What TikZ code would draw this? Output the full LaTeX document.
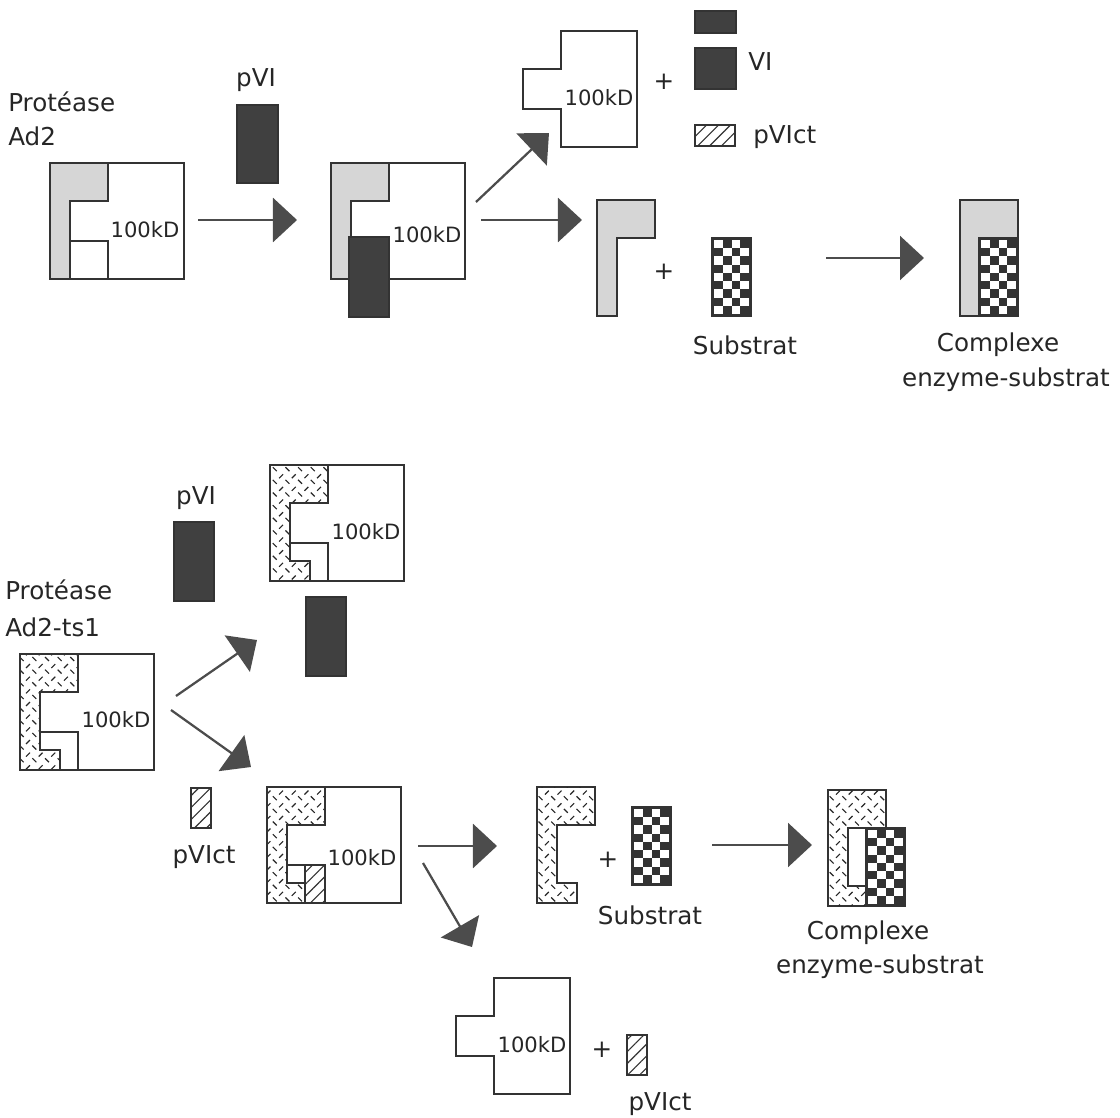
\documentclass[tikz,border=0pt]{standalone}
\usepackage{fontspec}
\setmainfont{DejaVu Sans}
\usetikzlibrary{arrows.meta,patterns,patterns.meta}
\pgfdeclarepatternformonly{tsdash}{\pgfqpoint{-1pt}{-1pt}}{\pgfqpoint{10pt}{10pt}}{\pgfqpoint{9pt}{9pt}}{%
  \pgfsetlinewidth{0.8pt}
  \pgfpathmoveto{\pgfqpoint{0.5pt}{5pt}}\pgfpathlineto{\pgfqpoint{3.3pt}{7.8pt}}
  \pgfpathmoveto{\pgfqpoint{5pt}{3.8pt}}\pgfpathlineto{\pgfqpoint{7.8pt}{1pt}}
  \pgfusepath{stroke}}
\begin{document}
\begin{tikzpicture}[x=0.025cm, y=-0.025cm]
  \tikzset{
    shapeline/.style={draw=black!80, line width=1.3pt},
    dotfill/.style={shapeline, fill=black!16},
    dashfill/.style={shapeline, fill=white, postaction={pattern=tsdash, pattern color=black!85}},
    kdbox/.style={shapeline, fill=white},
    pvibox/.style={draw=black!80, line width=1pt, fill=black!75},
    ctbox/.style={shapeline, line width=1pt, fill=white, postaction={pattern={Lines[angle=45,distance=6pt,line width=0.8pt]}, pattern color=black!80}},
    arr/.style={draw=black!70, line width=1.6pt, -{Triangle[length=0.6cm,width=1.1cm]}},
    lbl/.style={text=black!85, inner sep=0pt, font=\fontsize{17.5}{21}\selectfont},
    kd/.style={lbl, font=\fontsize{15}{18}\selectfont}
  }
  \useasboundingbox (0,0) rectangle (1120,1118);
  \def\lpath{-- ++(58,0) -- ++(0,38) -- ++(-38,0) -- ++(0,78) -- ++(-20,0) -- cycle}
  \def\tspath{-- ++(58,0) -- ++(0,38) -- ++(-38,0) -- ++(0,58) -- ++(20,0) -- ++(0,20) -- ++(-40,0) -- cycle}
  \def\kdpath{-- ++(76,0) -- ++(0,116) -- ++(-76,0) -- ++(0,-38) -- ++(-38,0) -- ++(0,-40) -- ++(38,0) -- cycle}
  \def\checker#1#2{\begin{scope}[shift={(#1,#2)}]
      \fill[black!80] (0,0) rectangle (39,78);
      \foreach \row in {0,...,8}
        \foreach \col in {0,...,3}{
          \pgfmathtruncatemacro\odd{mod(\row+\col,2)}
          \ifnum\odd=0 \fill[white] (2+\col*8.75,2+\row*8.22) rectangle ++(8.75,8.22); \fi}
      \draw[shapeline] (0,0) rectangle (39,78);
    \end{scope}}

  % Ad2 protease
  \node[lbl, anchor=west] (prot1) at (8,102) {Protéase};
  \node[lbl, anchor=west] (ad2) at (8,136) {Ad2};
  \draw[dotfill] (50,163) \lpath;
  \draw[kdbox] (108,163) \kdpath;
  \draw[shapeline] (50,163) rectangle ++(134,116);
  \node[kd] (kd1) at (145,230) {100kD};

  \node[lbl] (pvi1) at (256,80) {pVI};
  \draw[pvibox] (237,105) rectangle (278,183);
  \coordinate (a1s) at (198,220);
  \coordinate (a1e) at (297,220);
  \draw[arr] (a1s) -- (a1e);

  \draw[dotfill] (331,163) \lpath;
  \draw[kdbox] (389,163) \kdpath;
  \draw[shapeline] (331,163) rectangle ++(134,116);
  \draw[pvibox] (349,237) rectangle (389,317);
  \node[kd] (kd2) at (427,235) {100kD};

  \coordinate (a2s) at (476,202);
  \coordinate (a2e) at (549,133);
  \coordinate (a3s) at (481,220);
  \coordinate (a3e) at (582,220);
  \draw[arr] (a2s) -- (a2e);
  \draw[arr] (a3s) -- (a3e);

  % cleavage products
  \draw[kdbox] (561,31) \kdpath;
  \node[kd] (kd3) at (599,98) {100kD};
  \node[lbl] (plus1) at (664,82) {+};
  \draw[pvibox] (695,11) rectangle (736,33);
  \draw[pvibox] (695,48) rectangle (736,89);
  \node[lbl, anchor=west] (vi) at (748,62) {VI};
  \draw[ctbox] (695,125) rectangle (735,146);
  \node[lbl, anchor=west] (pvict1) at (753,137) {pVIct};

  \draw[dotfill] (597,200) \lpath;
  \node[lbl] (plus2) at (664,272) {+};
  \checker{712}{238}
  \node[lbl] (sub1) at (745,345) {Substrat};

  \coordinate (a4s) at (826,258);
  \coordinate (a4e) at (924,258);
  \draw[arr] (a4s) -- (a4e);

  \draw[dotfill] (960,200) \lpath;
  \checker{979}{238}
  \node[lbl] (cpx1) at (998,345) {Complexe};
  \node[lbl] (es1) at (1006,380) {enzyme-substrat};

  % Ad2-ts1 protease
  \node[lbl] (pvi2) at (196,498) {pVI};
  \draw[pvibox] (174,522) rectangle (214,601);
  \node[lbl, anchor=west] (prot2) at (5,590) {Protéase};
  \node[lbl, anchor=west] (ts1) at (5,627) {Ad2-ts1};
  \draw[dashfill] (20,654) \tspath;
  \draw[kdbox] (78,654) \kdpath;
  \draw[shapeline] (20,654) rectangle ++(134,116);
  \node[kd] (kd4) at (116,720) {100kD};

  \coordinate (a5s) at (176,696);
  \coordinate (a5e) at (257,640);
  \coordinate (a6s) at (171,710);
  \coordinate (a6e) at (251,767);
  \draw[arr] (a5s) -- (a5e);
  \draw[arr] (a6s) -- (a6e);

  \draw[dashfill] (270,465) \tspath;
  \draw[kdbox] (328,465) \kdpath;
  \draw[shapeline] (270,465) rectangle ++(134,116);
  \node[kd] (kd5) at (366,532) {100kD};
  \draw[pvibox] (306,597) rectangle (346,676);

  \draw[ctbox] (191,788) rectangle (211,828);
  \node[lbl] (pvict2) at (204,857) {pVIct};

  \draw[dashfill] (267,787) \tspath;
  \draw[kdbox] (325,787) \kdpath;
  \draw[shapeline] (267,787) rectangle ++(134,116);
  \draw[ctbox] (305,865) rectangle (325,903);
  \node[kd] (kd6) at (362,858) {100kD};

  \coordinate (a7s) at (418,846);
  \coordinate (a7e) at (497,846);
  \coordinate (a8s) at (423,863);
  \coordinate (a8e) at (472,947);
  \draw[arr] (a7s) -- (a7e);
  \draw[arr] (a8s) -- (a8e);

  \draw[dashfill] (537,787) \tspath;
  \node[lbl] (plus3) at (608,860) {+};
  \checker{632}{807}
  \node[lbl] (sub2) at (650,915) {Substrat};

  \coordinate (a9s) at (712,845);
  \coordinate (a9e) at (812,845);
  \draw[arr] (a9s) -- (a9e);

  \draw[dashfill] (828,790) \tspath;
  \draw[kdbox] (848,828) rectangle (866,886);
  \checker{866}{828}
  \node[lbl] (cpx2) at (868,933) {Complexe};
  \node[lbl] (es2) at (880,967) {enzyme-substrat};

  \draw[kdbox] (494,978) \kdpath;
  \node[kd] (kd7) at (532,1045) {100kD};
  \node[lbl] (plus4) at (602,1050) {+};
  \draw[ctbox] (627,1035) rectangle (647,1075);
  \node[lbl] (pvict3) at (660,1104) {pVIct};
\end{tikzpicture}
\end{document}
